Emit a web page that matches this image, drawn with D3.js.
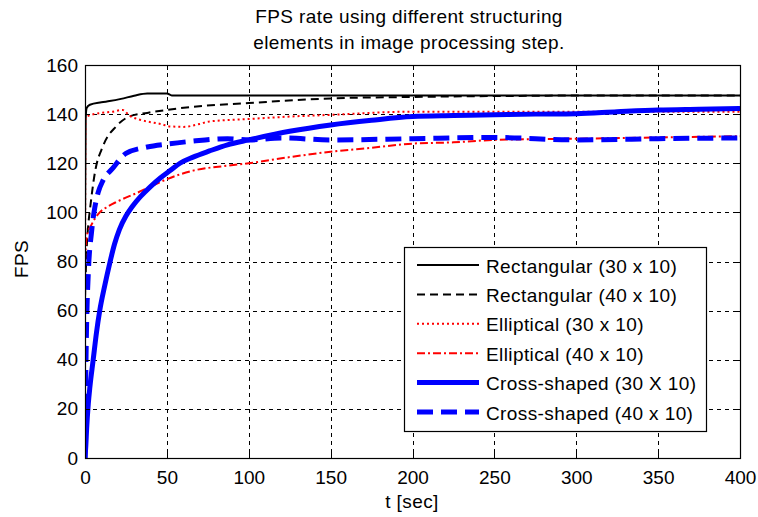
<!DOCTYPE html>
<html>
<head>
<meta charset="utf-8">
<script src="https://cdn.jsdelivr.net/npm/d3@7"></script>
<style>
  body { margin: 0; background: #fff; }
  svg { display: block; }
  text { font-family: "Liberation Sans", Arial, sans-serif; fill: #000; }
</style>
</head>
<body>
<svg id="chart" width="758" height="517"></svg>
<script>
// Time samples (seconds) and FPS readings for each structuring element
const rect30T = [0, 0.4, 1, 3, 10, 15, 22, 30, 38, 50, 53, 100, 200, 300, 400];
const rect30V = [95, 138, 142.5, 143.8, 144.8, 145.3, 146.2, 147.5, 148.4, 148.4, 147.6, 147.6, 147.6, 147.6, 147.6];

const rect40T = [0, 1, 2, 3, 6, 11, 19, 27, 38, 50, 66, 100, 150, 200, 240, 280, 300, 400];
const rect40V = [65, 85, 95, 101, 116, 127, 135, 139, 140.5, 141.7, 143, 144.5, 146.4, 147, 147.3, 147.5, 147.6, 147.6];

const ell30T = [0, 0.3, 1, 10, 17, 23, 27, 33, 38, 46, 52, 60, 70, 76, 100, 125, 150, 200, 250, 300, 350, 400];
const ell30V = [50, 138, 139, 140.5, 141, 141.7, 139.5, 137.8, 137, 136, 135, 134.8, 136, 137, 138, 139, 139.7, 141, 141, 141, 141, 141];

const ell40T = [0, 1, 4, 9, 13, 20, 32, 40, 50, 66, 87, 100, 125, 150, 175, 200, 225, 250, 300, 350, 400];
const ell40V = [80, 90, 95, 100, 102, 104.5, 108, 110.5, 113.5, 117, 119, 120, 122.5, 124.7, 126.3, 128, 128.5, 129.5, 130, 130.5, 131];

const cross30T = [0, 0.5, 1, 2, 3, 5, 7, 9, 12, 15, 18, 21, 25, 29, 34, 40, 46, 52, 58, 66, 76, 87, 100, 125, 150, 175, 200, 225, 250, 275, 300, 325, 350, 375, 400];
const cross30V = [0, 5, 12, 22, 29, 40, 51, 60, 70, 79, 87, 93, 98.5, 102.5, 106.5, 110.5, 114, 117, 120, 122.5, 125, 127.5, 129.5, 133, 135.6, 137.5, 139, 139.4, 139.7, 140, 140.2, 141, 141.7, 142, 142.3];

const cross40T = [0, 0.5, 1, 2, 4, 6, 8, 11, 17, 25, 38, 50, 66, 87, 100, 120, 150, 200, 250, 300, 350, 400];
const cross40V = [0, 35, 55, 75, 92, 102, 108, 113, 118, 124, 126.6, 127.8, 129, 130, 129.5, 130.3, 129.5, 130, 130.5, 129.5, 130, 130.3];

const seriesNames = [
  "Rectangular (30 x 10)",
  "Rectangular (40 x 10)",
  "Elliptical (30 x 10)",
  "Elliptical (40 x 10)",
  "Cross-shaped (30 X 10)",
  "Cross-shaped (40 x 10)"
];

const xTicks = [0, 50, 100, 150, 200, 250, 300, 350, 400];
const yTicks = [0, 20, 40, 60, 80, 100, 120, 140, 160];

const series = [
  { name: seriesNames[0], t: rect30T, v: rect30V, color: "#000", width: 2, dash: null },
  { name: seriesNames[1], t: rect40T, v: rect40V, color: "#000", width: 2, dash: "8,5" },
  { name: seriesNames[2], t: ell30T, v: ell30V, color: "#ff0000", width: 2, dash: "2,3" },
  { name: seriesNames[3], t: ell40T, v: ell40V, color: "#ff0000", width: 2, dash: "8,3,2,3" },
  { name: seriesNames[4], t: cross30T, v: cross30V, color: "#0000ff", width: 5, dash: null },
  { name: seriesNames[5], t: cross40T, v: cross40V, color: "#0000ff", width: 5, dash: "16,8" }
];

const FS = 19;
const svg = d3.select("#chart");
const plotL = 85, plotR = 740, plotT = 65, plotB = 458;

const x = d3.scaleLinear().domain([0, 400]).range([plotL, plotR]);
const y = d3.scaleLinear().domain([0, 160]).range([plotB, plotT]);

// Dashed grid
const grid = svg.append("g").attr("stroke", "#000").attr("stroke-width", 1)
  .attr("stroke-dasharray", "4,4").attr("shape-rendering", "crispEdges");
grid.selectAll("line.vx").data(xTicks.slice(1, -1)).join("line")
  .attr("x1", d => Math.round(x(d)) + 0.5).attr("x2", d => Math.round(x(d)) + 0.5)
  .attr("y1", plotT).attr("y2", plotB);
grid.selectAll("line.hy").data(yTicks.slice(1, -1)).join("line")
  .attr("x1", plotL).attr("x2", plotR)
  .attr("y1", d => Math.round(y(d)) + 0.5).attr("y2", d => Math.round(y(d)) + 0.5);

// Data lines
svg.append("clipPath").attr("id", "plotclip").append("rect")
  .attr("x", plotL).attr("y", plotT).attr("width", plotR - plotL).attr("height", plotB - plotT);

const line = d3.line().x(d => x(d[0])).y(d => y(d[1])).curve(d3.curveMonotoneX);
const plot = svg.append("g").attr("clip-path", "url(#plotclip)");
series.forEach(s => {
  const pts = s.t.map((t, i) => [t, s.v[i]]);
  plot.append("path").datum(pts)
    .attr("d", line)
    .attr("fill", "none")
    .attr("stroke", s.color)
    .attr("stroke-width", s.width)
    .attr("stroke-dasharray", s.dash)
    .attr("stroke-linejoin", "round");
});

// Axes with inward ticks on all four sides
const axisStyle = g => {
  g.select(".domain").remove();
  g.selectAll("line").attr("stroke", "#000").attr("shape-rendering", "crispEdges");
  g.selectAll("text").attr("font-size", FS).attr("font-family", "Liberation Sans, Arial, sans-serif");
};
svg.append("g").attr("transform", `translate(0,${plotB})`)
  .call(d3.axisBottom(x).tickValues(xTicks).tickSizeInner(-5).tickSizeOuter(0).tickPadding(13))
  .call(axisStyle);
svg.append("g").attr("transform", `translate(0,${plotT})`)
  .call(d3.axisTop(x).tickValues(xTicks).tickSizeInner(-5).tickSizeOuter(0).tickFormat(""))
  .call(axisStyle);
svg.append("g").attr("transform", `translate(${plotL},0)`)
  .call(d3.axisLeft(y).tickValues(yTicks).tickSizeInner(-5).tickSizeOuter(0).tickPadding(7))
  .call(axisStyle);
svg.append("g").attr("transform", `translate(${plotR},0)`)
  .call(d3.axisRight(y).tickValues(yTicks).tickSizeInner(-5).tickSizeOuter(0).tickFormat(""))
  .call(axisStyle);

// Plot box
svg.append("rect").attr("x", plotL + 0.5).attr("y", plotT + 0.5)
  .attr("width", plotR - plotL).attr("height", plotB - plotT)
  .attr("fill", "none").attr("stroke", "#000").attr("stroke-width", 1.2);

// Titles and axis labels
const label = (xx, yy, txt) => svg.append("text").attr("x", xx).attr("y", yy)
  .attr("text-anchor", "middle").attr("font-size", FS).attr("letter-spacing", 0.4).text(txt);
label(409, 23, "FPS rate using different structuring");
label(409, 49, "elements in image processing step.");
label(412, 508, "t [sec]");
svg.append("text").attr("transform", "translate(28,259) rotate(-90)")
  .attr("text-anchor", "middle").attr("font-size", FS).attr("letter-spacing", 0.4).text("FPS");

// Legend
const lg = svg.append("g");
lg.append("rect").attr("x", 404.5).attr("y", 247.5).attr("width", 302).attr("height", 184)
  .attr("fill", "#fff").attr("stroke", "#000").attr("stroke-width", 1.2);
series.forEach((s, i) => {
  const yy = 265 + i * 29.4;
  lg.append("line").attr("x1", 417).attr("x2", 479).attr("y1", yy).attr("y2", yy)
    .attr("stroke", s.color).attr("stroke-width", s.width).attr("stroke-dasharray", s.dash);
  lg.append("text").attr("x", 486).attr("y", yy + 7.5).attr("font-size", FS)
    .attr("letter-spacing", 0.4).text(s.name);
});
</script>
</body>
</html>
